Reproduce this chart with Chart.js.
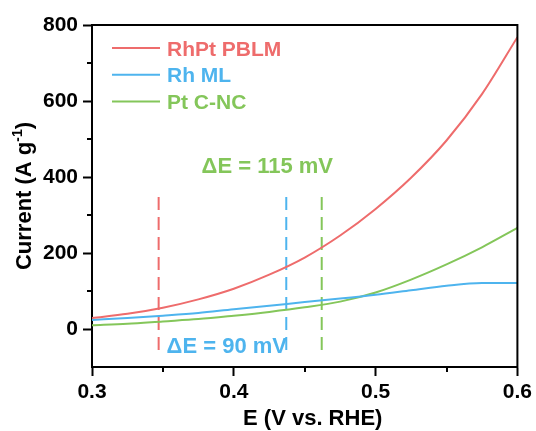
<!DOCTYPE html>
<html>
<head>
<meta charset="utf-8">
<script src="https://cdn.jsdelivr.net/npm/chart.js@4/dist/chart.umd.min.js"></script>
<style>
html,body{margin:0;padding:0;background:#fff;}
canvas{display:block;}
</style>
</head>
<body>
<canvas id="c" width="536" height="431"></canvas>
<script>
// ---- data ----
const potentials = [0.30, 0.325, 0.35, 0.375, 0.40, 0.425, 0.45, 0.475, 0.50, 0.525, 0.55, 0.575, 0.60];
const rhptPBLM   = [29, 40, 56, 78, 106, 143, 188, 246, 316, 398, 496, 618, 768];
const rhML       = [24, 29, 35, 42, 52, 61, 71, 80, 90, 102, 114, 121, 121];
const ptCNC      = [10, 14, 20, 26, 35, 45, 57, 72, 96, 130, 170, 215, 266];
const seriesNames = ['RhPt PBLM', 'Rh ML', 'Pt C-NC'];
const markerPotentials = [0.347, 0.437, 0.462];
const markerSpan = [-55, 360];
const xTickValues = [0.3, 0.4, 0.5, 0.6];
const xMinorValues = [0.35, 0.45, 0.55];
const yTickValues = [0, 200, 400, 600, 800];
const yMinorValues = [100, 300, 500, 700];
const deltaLabels = ['\u0394E = 115 mV', '\u0394E = 90 mV'];

// ---- styles / placement ----
const colors = ['#EE6C6C', '#4EB4EE', '#84C65A'];
const FONT = "'Liberation Sans', Arial, sans-serif";
const annotAnchors = [{x: 0.3773, y: 432, color: colors[2]}, {x: 0.3526, y: -42, color: colors[1]}];

const seriesData = [rhptPBLM, rhML, ptCNC];
const datasets = seriesData.map((arr, i) => ({
  label: seriesNames[i],
  data: potentials.map((x, j) => ({x: x, y: arr[j]})),
  borderColor: colors[i],
  borderWidth: 2,
  pointRadius: 0,
  showLine: true,
  cubicInterpolationMode: 'monotone',
  fill: false
}));
markerPotentials.forEach((p, i) => {
  datasets.push({
    label: 'marker' + i,
    data: [{x: p, y: markerSpan[0]}, {x: p, y: markerSpan[1]}],
    borderColor: colors[i],
    borderWidth: 2,
    borderDash: [13, 7],
    pointRadius: 0,
    showLine: true,
    fill: false
  });
});

const decor = {
  id: 'decor',
  afterDraw(chart) {
    const ctx = chart.ctx;
    const a = chart.chartArea;
    const xs = chart.scales.x, ys = chart.scales.y;
    ctx.save();
    // frame top and right
    ctx.strokeStyle = '#000';
    ctx.lineWidth = 2;
    ctx.beginPath();
    ctx.moveTo(a.left - 1, a.top);
    ctx.lineTo(a.right, a.top);
    ctx.lineTo(a.right, a.bottom + 1);
    ctx.stroke();
    // minor ticks
    ctx.lineWidth = 2;
    xMinorValues.forEach(v => {
      const px = Math.round(xs.getPixelForValue(v));
      ctx.beginPath(); ctx.moveTo(px, a.bottom); ctx.lineTo(px, a.bottom + 5); ctx.stroke();
    });
    yMinorValues.forEach(v => {
      const py = Math.round(ys.getPixelForValue(v));
      ctx.beginPath(); ctx.moveTo(a.left, py); ctx.lineTo(a.left - 5, py); ctx.stroke();
    });
    // legend
    ctx.font = 'bold 21px ' + FONT;
    ctx.textAlign = 'left';
    ctx.textBaseline = 'alphabetic';
    seriesNames.forEach((name, i) => {
      const cy = a.top + 23 + i * 26.7;
      ctx.strokeStyle = colors[i];
      ctx.lineWidth = 2;
      ctx.beginPath(); ctx.moveTo(a.left + 20, cy); ctx.lineTo(a.left + 68, cy); ctx.stroke();
      ctx.fillStyle = colors[i];
      ctx.fillText(name, a.left + 75, cy + 7.5);
    });
    // delta E annotations
    ctx.font = 'bold 22px ' + FONT;
    annotAnchors.forEach((an, i) => {
      ctx.fillStyle = an.color;
      ctx.fillText(deltaLabels[i], xs.getPixelForValue(an.x), ys.getPixelForValue(an.y) + 8);
    });
    // x title
    ctx.fillStyle = '#000';
    ctx.textAlign = 'center';
    ctx.font = 'bold 22px ' + FONT;
    ctx.fillText('E (V vs. RHE)', (a.left + a.right) / 2 + 8, a.bottom + 58);
    // y title with superscript
    ctx.translate(31, (a.top + a.bottom) / 2);
    ctx.rotate(-Math.PI / 2);
    const big = 'bold 22px ' + FONT, small = 'bold 14px ' + FONT;
    const p1 = 'Current (A g', p2 = '-1', p3 = ')';
    ctx.font = big; const w1 = ctx.measureText(p1).width, w3 = ctx.measureText(p3).width;
    ctx.font = small; const w2 = ctx.measureText(p2).width;
    let x0 = -(w1 + w2 + w3) / 2;
    ctx.textAlign = 'left';
    ctx.font = big; ctx.fillText(p1, x0, 0);
    ctx.font = small; ctx.fillText(p2, x0 + w1, -9);
    ctx.font = big; ctx.fillText(p3, x0 + w1 + w2, 0);
    ctx.restore();
  }
};

new Chart(document.getElementById('c'), {
  type: 'scatter',
  data: {datasets: datasets},
  plugins: [decor],
  options: {
    responsive: false,
    animation: false,
    layout: {padding: {left: 0, top: 25, right: 18, bottom: 0}},
    plugins: {legend: {display: false}, tooltip: {enabled: false}},
    scales: {
      x: {
        type: 'linear', min: 0.3, max: 0.6,
        afterBuildTicks: s => { s.ticks = xTickValues.map(v => ({value: v})); },
        afterFit: s => { s.height = 64; },
        ticks: {color: '#000', font: {family: FONT, size: 21, weight: 'bold'}, padding: 4,
                callback: v => Number(v).toFixed(1), maxRotation: 0},
        grid: {drawOnChartArea: false, drawTicks: true, tickLength: 9, tickWidth: 2, tickColor: '#000'},
        border: {display: true, width: 2, color: '#000'}
      },
      y: {
        type: 'linear', min: -100, max: 800,
        afterBuildTicks: s => { s.ticks = yTickValues.map(v => ({value: v})); },
        afterFit: s => { s.width = 92; },
        ticks: {color: '#000', font: {family: FONT, size: 21, weight: 'bold'}, padding: 5,
                callback: v => String(v)},
        grid: {drawOnChartArea: false, drawTicks: true, tickLength: 9, tickWidth: 2, tickColor: '#000'},
        border: {display: true, width: 2, color: '#000'}
      }
    }
  }
});
</script>
</body>
</html>
